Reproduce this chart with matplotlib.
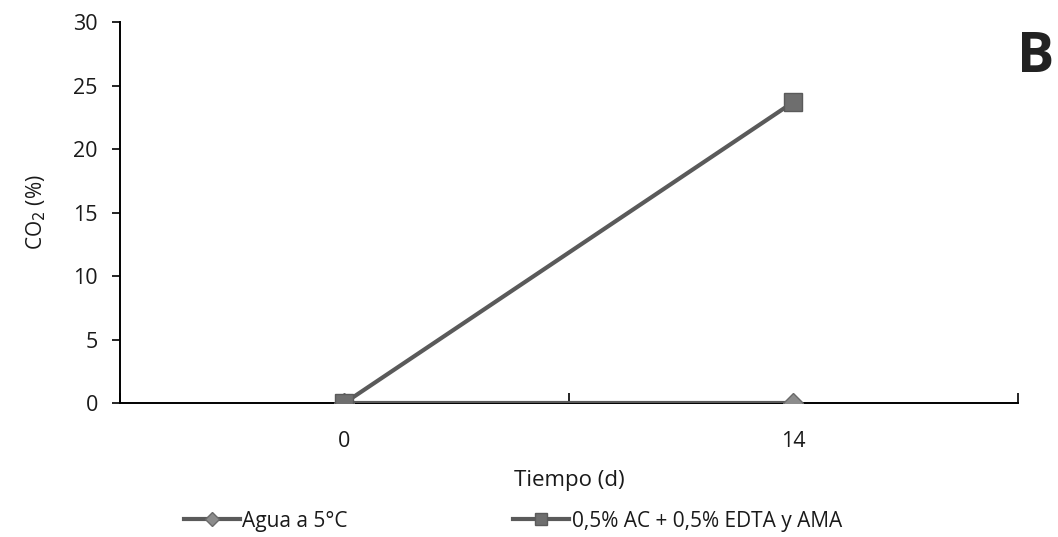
import matplotlib.pyplot as plt
import numpy as np

plt.rcParams['font.family'] = ['Open Sans', 'DejaVu Sans']
plt.rcParams['text.color'] = '#1a1a1a'
plt.rcParams['axes.labelcolor'] = '#1a1a1a'
plt.rcParams['xtick.labelcolor'] = '#1a1a1a'
plt.rcParams['ytick.labelcolor'] = '#1a1a1a'

# datos
dias = ['0', '14']
agua = [0, 0]
ac_edta = [0, 23.7]
nombres = ['Agua a 5°C', '0,5% AC + 0,5% EDTA y AMA']

fig = plt.figure(figsize=(10.58, 5.37), dpi=100)
ax = fig.add_axes([0.1134, 0.2495, 0.8487, 0.7095])

x = np.arange(len(dias))
l1, = ax.plot(x, agua, color='#5a5a5a', lw=3, marker='D', ms=10,
              mfc='#8c8c8c', mec='#6a6a6a', zorder=3)
l2, = ax.plot(x, ac_edta, color='#5a5a5a', lw=3, marker='s', ms=13,
              mfc='#6e6e6e', mec='#5a5a5a', zorder=4)

ax.set_xlim(-0.5, 1.5)
ax.set_ylim(0, 30)
ax.set_yticks([0, 5, 10, 15, 20, 25, 30])
ax.set_xticks(x)
ax.set_xticklabels(dias)
ax.set_xticks([-0.5, 0.5, 1.5], minor=True)
ax.tick_params(axis='x', which='major', length=0, labelsize=15.5, pad=20)
ax.tick_params(axis='x', which='minor', length=7, width=1.2, direction='in')
ax.tick_params(axis='y', labelsize=15.5, length=6, width=1.2, direction='out', pad=10)
for s in ['top', 'right']:
    ax.spines[s].set_visible(False)
ax.spines['left'].set_linewidth(1.4)
ax.spines['bottom'].set_linewidth(1.4)

ax.set_xlabel('Tiempo (d)', fontsize=16, labelpad=13)
ax.set_ylabel('CO$_2$ (%)', fontsize=15, labelpad=18)

fig.text(1054 / 1058, 1 - 58 / 537, 'B', fontsize=40, fontweight='bold',
         color='#222222', ha='right', va='center')

fig.legend([l1, l2], nombres, loc='center left', ncol=2,
           bbox_to_anchor=(165 / 1058, 1 - 521 / 537), frameon=False,
           fontsize=15, handlelength=2.7, handletextpad=0.1,
           columnspacing=7.95, markerscale=0.7)

fig.savefig('out.png', dpi=100)
